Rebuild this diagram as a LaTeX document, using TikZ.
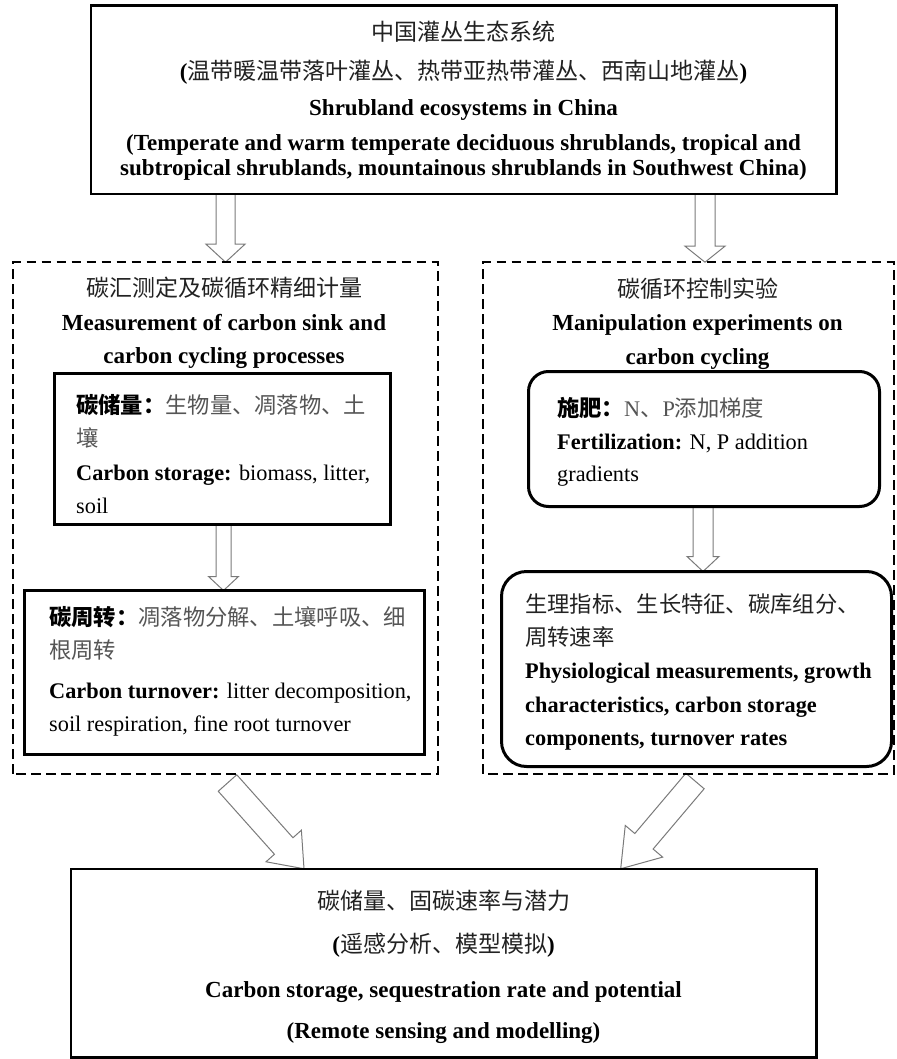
\documentclass[tikz,border=0pt]{standalone}
\usepackage{fontspec}
\setmainfont{Liberation Serif}
\newfontfamily\cjk{Noto Sans CJK SC}
\usetikzlibrary{calc}
\definecolor{cjkgray}{HTML}{555555}
\definecolor{darktxt}{HTML}{222222}
\definecolor{arrowgray}{HTML}{7A7A7A}
\tikzset{
  hollowarrow/.style={draw=arrowgray, line width=1pt, fill=white, line join=miter},
  solidbox/.style={draw, line width=2.5pt, inner sep=0pt},
  innerbox/.style={draw, line width=3pt, inner sep=0pt},
  roundbox/.style={draw, line width=3pt, inner sep=0pt, rounded corners=#1},
  dashbox/.style={draw, line width=1.6pt, dash pattern=on 9.5pt off 5.5pt, inner sep=0pt},
  txt/.style={inner sep=0pt, font=\fontsize{23}{27}\selectfont},
  ctxt/.style={txt, anchor=base},
  ltxt/.style={inner sep=0pt, anchor=base west, font=\fontsize{22.3}{27}\selectfont},
  bt/.style={font=\fontsize{23}{27}\selectfont\bfseries},
  lbt/.style={font=\fontsize{22.3}{27}\selectfont\bfseries},
}
% #1 start, #2 end, #3 half shaft, #4 half head, #5 head length, #6 id
\newcommand\blockarrow[6]{%
  \coordinate (#6h) at ($(#2)!#5pt!(#1)$);
  \draw[hollowarrow] ($(#1)!#3pt!90:(#2)$) -- ($(#6h)!#3pt!90:(#2)$) -- ($(#6h)!#4pt!90:(#2)$)
    -- (#2) -- ($(#6h)!#4pt!-90:(#2)$) -- ($(#6h)!#3pt!-90:(#2)$) -- ($(#1)!#3pt!-90:(#2)$) -- cycle;
}
\begin{document}
\begin{tikzpicture}[x=1pt, y=-1pt]
\useasboundingbox (0,0) rectangle (896,1059);
\fill[white] (0,0) rectangle (896,1059);

% boxes (positions only)
\path (463.5,100) node[minimum width=743pt, minimum height=186pt, inner sep=0pt, line width=2.5pt] (top) {};
\path (225.5,518) node[minimum width=423pt, minimum height=510pt, inner sep=0pt, line width=1.6pt] (ldash) {};
\path (688.5,518) node[minimum width=409pt, minimum height=510pt, inner sep=0pt, line width=1.6pt] (rdash) {};
\path (222.5,449) node[minimum width=333pt, minimum height=148pt, inner sep=0pt, line width=3pt] (lboxa) {};
\path (224.5,672.5) node[minimum width=397pt, minimum height=161pt, inner sep=0pt, line width=3pt] (lboxb) {};
\path (704,439) node[minimum width=348pt, minimum height=132pt, inner sep=0pt, line width=3pt] (rboxa) {};
\path (696.5,669) node[minimum width=387pt, minimum height=192pt, inner sep=0pt, line width=3pt] (rboxb) {};
\path (443.5,963) node[minimum width=743pt, minimum height=186pt, inner sep=0pt, line width=2.5pt] (bot) {};

% arrows
\coordinate (a1s) at (225.5,0 |- top.south);
\coordinate (a1e) at (225.5,0 |- ldash.north);
\blockarrow{a1s}{a1e}{9.5}{19.5}{18}{a1}
\coordinate (a2s) at (705,0 |- top.south);
\coordinate (a2e) at (705,0 |- rdash.north);
\blockarrow{a2s}{a2e}{10}{20}{16}{a2}
\coordinate (a3s) at (223.5,0 |- lboxa.south);
\coordinate (a3e) at (223.5,0 |- lboxb.north);
\blockarrow{a3s}{a3e}{7.5}{15}{14}{a3}
\coordinate (a4s) at (703,0 |- rboxa.south);
\coordinate (a4e) at (703,0 |- rboxb.north);
\blockarrow{a4s}{a4e}{10}{16}{15}{a4}
\coordinate (d1s) at (227.5,783);
\coordinate (d1e) at (304,0 |- bot.north);
\blockarrow{d1s}{d1e}{12.4}{23.7}{30.5}{d1}
\coordinate (d2s) at (695,781);
\coordinate (d2e) at (620.7,0 |- bot.north);
\blockarrow{d2s}{d2e}{12}{24.5}{36}{d2}

% box outlines
\draw[solidbox] (top.south west) rectangle (top.north east);
\draw[dashbox] (ldash.south west) rectangle (ldash.north east);
\draw[dashbox] (rdash.south west) rectangle (rdash.north east);
\draw[innerbox] (lboxa.south west) rectangle (lboxa.north east);
\draw[innerbox] (lboxb.south west) rectangle (lboxb.north east);
\draw[roundbox=20pt] (rboxa.south west) rectangle (rboxa.north east);
\draw[roundbox=25pt] (rboxb.south west) rectangle (rboxb.north east);
\draw[solidbox] (bot.south west) rectangle (bot.north east);

% top texts
\node[ctxt, text=darktxt] (t1) at (463.5,41) {\cjk 中国灌丛生态系统};
\node[ctxt] (t2) at (463.5,80) {\textbf{(}\textcolor{darktxt}{\cjk 温带暖温带落叶灌丛、热带亚热带灌丛、西南山地灌丛}\textbf{)}};
\node[ctxt, bt] (t3) at (463.5,116) {Shrubland ecosystems in China};
\node[ctxt, bt] (t4) at (463.5,151) {(Temperate and warm temperate deciduous shrublands, tropical and};
\node[ctxt, bt] (t5) at (463.5,176) {subtropical shrublands, mountainous shrublands in Southwest China)};

% left titles
\node[ctxt, text=darktxt] (l1) at (224,296) {\cjk 碳汇测定及碳循环精细计量};
\node[ctxt, bt] (l2) at (224,330) {Measurement of carbon sink and};
\node[ctxt, bt] (l3) at (224,363) {carbon cycling processes};

% right titles
\node[ctxt, text=darktxt] (r1) at (697.5,297) {\cjk 碳循环控制实验};
\node[ctxt, bt] (r2) at (697.5,330) {Manipulation experiments on};
\node[ctxt, bt] (r3) at (697.5,364) {carbon cycling};

% left box a
\node[ltxt] (la1) at (76,413) {{\cjk\bfseries 碳储量：}\textcolor{cjkgray}{\cjk 生物量、凋落物、土}};
\node[ltxt] (la2) at (76,446) {\textcolor{cjkgray}{\cjk 壤}};
\node[ltxt] (la3) at (76,480) {\textbf{Carbon storage:} biomass, litter,};
\node[ltxt] (la4) at (76,513) {soil};

% left box b
\node[ltxt] (lb1) at (49,625) {{\cjk\bfseries 碳周转：}\textcolor{cjkgray}{\cjk 凋落物分解、土壤呼吸、细}};
\node[ltxt] (lb2) at (49,658) {\textcolor{cjkgray}{\cjk 根周转}};
\node[ltxt] (lb3) at (49,698) {\textbf{Carbon turnover:} litter decomposition,};
\node[ltxt] (lb4) at (49,731) {soil respiration, fine root turnover};

% right box a
\node[ltxt] (ra1) at (557,416) {{\cjk\bfseries 施肥：}\textcolor{cjkgray}{N{\cjk 、}P{\cjk 添加梯度}}};
\node[ltxt] (ra2) at (557,449) {\textbf{Fertilization:} N, P addition};
\node[ltxt] (ra3) at (557,481) {gradients};

% right box b
\node[ltxt] (rb1) at (525,612) {\textcolor{darktxt}{\cjk 生理指标、生长特征、碳库组分、}};
\node[ltxt] (rb2) at (525,645) {\textcolor{darktxt}{\cjk 周转速率}};
\node[ltxt, lbt] (rb3) at (525,678) {Physiological measurements, growth};
\node[ltxt, lbt] (rb4) at (525,712) {characteristics, carbon storage};
\node[ltxt, lbt] (rb5) at (525,745) {components, turnover rates};

% bottom box
\node[ctxt, text=darktxt] (b1) at (443.5,909) {\cjk 碳储量、固碳速率与潜力};
\node[ctxt] (b2) at (443.5,952) {\textbf{(}\textcolor{darktxt}{\cjk 遥感分析、模型模拟}\textbf{)}};
\node[ctxt, bt] (b3) at (443.5,997) {Carbon storage, sequestration rate and potential};
\node[ctxt, bt] (b4) at (443.5,1038) {(Remote sensing and modelling)};
\end{tikzpicture}
\end{document}
